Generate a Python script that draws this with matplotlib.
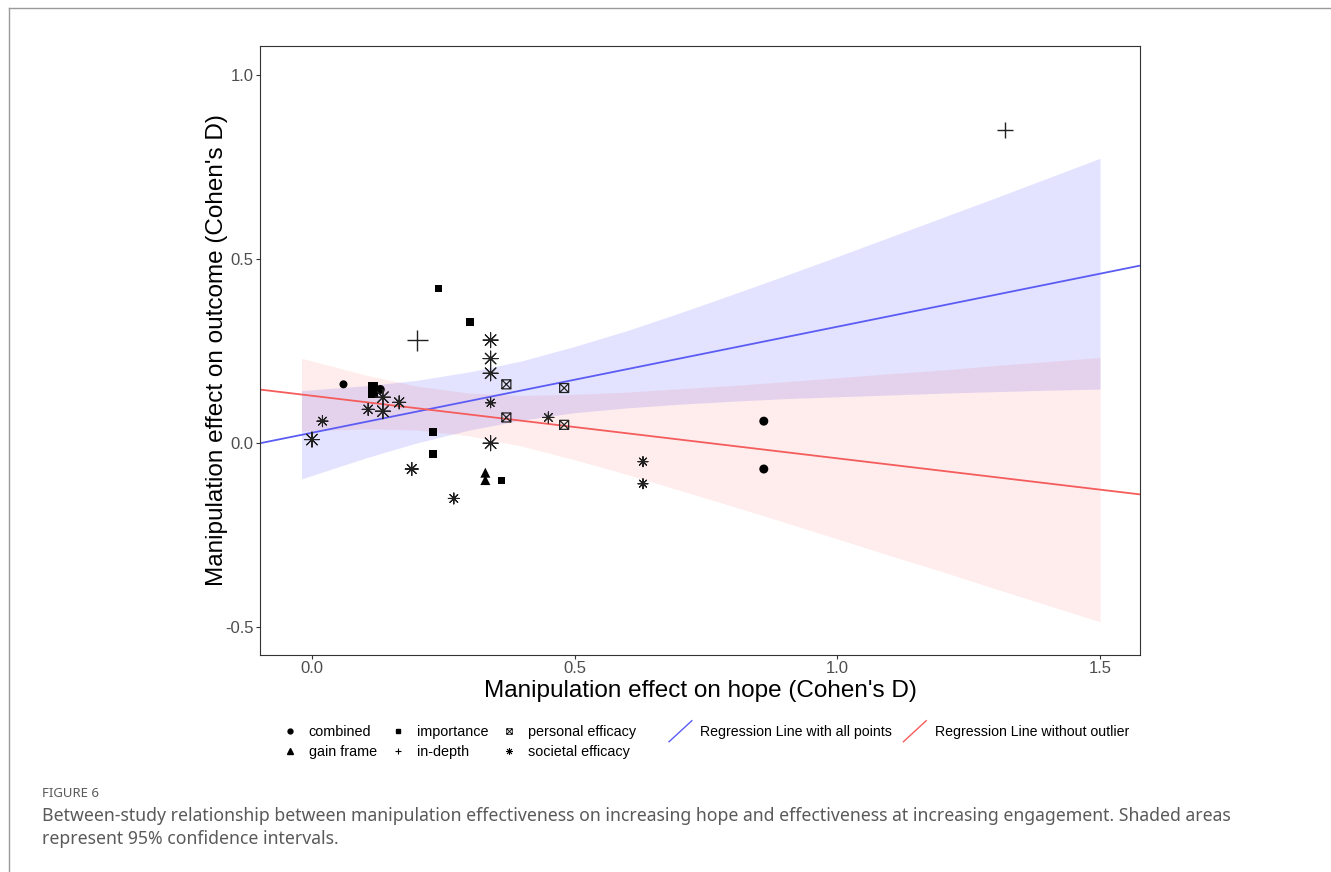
import numpy as np
import matplotlib
matplotlib.use("Agg")
from matplotlib import pyplot as plt
from matplotlib.lines import Line2D
from matplotlib.path import Path
from matplotlib.legend_handler import HandlerBase

plt.rcParams['font.family'] = ['Liberation Sans', 'DejaVu Sans']

# points per manipulation type (x = effect on hope, y = effect on outcome, size in px)
combined_x = [0.06, 0.13, 0.86, 0.86]
combined_y = [0.16, 0.146, 0.06, -0.07]
combined_s = [8, 9, 9, 9]

importance_x = [0.116, 0.116, 0.24, 0.30, 0.23, 0.23, 0.36]
importance_y = [0.152, 0.136, 0.42, 0.33, 0.03, -0.03, -0.10]
importance_s = [10, 10, 7, 8, 8, 8, 7]

gainframe_x = [0.33, 0.33]
gainframe_y = [-0.08, -0.10]
gainframe_s = [10, 10]

indepth_x = [0.20, 1.32]
indepth_y = [0.28, 0.85]
indepth_s = [21, 16]

personal_x = [0.37, 0.48, 0.37, 0.48]
personal_y = [0.16, 0.15, 0.07, 0.05]
personal_s = [9, 9, 9, 9]

societal_x = [0.00, 0.02, 0.107, 0.135, 0.135, 0.166, 0.34, 0.34, 0.34, 0.34, 0.34, 0.19, 0.27, 0.45, 0.63, 0.63]
societal_y = [0.01, 0.06, 0.092, 0.125, 0.087, 0.111, 0.28, 0.23, 0.19, 0.11, 0.00, -0.07, -0.15, 0.07, -0.05, -0.11]
societal_s = [15, 11, 12, 15, 15, 13, 15, 15, 15, 10, 15, 13, 11, 11, 10, 10]

# regression lines (intercept, slope)
reg_all = (0.0285, 0.288)
reg_noout = (0.129, -0.170)

# 95% confidence bands
band_x = [-0.02, 0.1, 0.2, 0.3, 0.4, 0.5, 0.6, 0.7, 0.8, 0.9, 1.0, 1.1, 1.2, 1.3, 1.4, 1.5]
blue_lo = [-0.097, -0.041, 0.001, 0.036, 0.063, 0.083, 0.096, 0.106, 0.114, 0.121,
           0.126, 0.131, 0.136, 0.140, 0.144, 0.147]
blue_hi = [0.143, 0.156, 0.171, 0.194, 0.224, 0.263, 0.306, 0.354, 0.404, 0.455,
           0.507, 0.560, 0.613, 0.666, 0.720, 0.774]
red_lo = [0.033, 0.039, 0.036, 0.020, -0.008, -0.045, -0.085, -0.128, -0.171, -0.215,
          -0.260, -0.305, -0.349, -0.395, -0.440, -0.485]
red_hi = [0.231, 0.186, 0.155, 0.136, 0.130, 0.133, 0.139, 0.148, 0.157, 0.167,
          0.178, 0.189, 0.199, 0.211, 0.222, 0.233]

# square with a cross inside (R pch 7)
box_x = Path([(-1, -1), (1, -1), (1, 1), (-1, 1), (-1, -1), (-1, -1), (1, 1), (-1, 1), (1, -1)],
             [Path.MOVETO, Path.LINETO, Path.LINETO, Path.LINETO, Path.CLOSEPOLY,
              Path.MOVETO, Path.LINETO, Path.MOVETO, Path.LINETO])
asterisk = (8, 2, 0)

fig = plt.figure(figsize=(13.31, 8.72), dpi=100)
ax = fig.add_axes([0.1953, 0.2489, 0.6612, 0.6984])

ax.fill_between(band_x, blue_lo, blue_hi, color='#0000ff', alpha=0.11, lw=0, zorder=1)
ax.fill_between(band_x, red_lo, red_hi, color='#ff0000', alpha=0.07, lw=0, zorder=1)
ax.axline((0, reg_all[0]), slope=reg_all[1], color='#5c5cf5', lw=1.3, zorder=2)
ax.axline((0, reg_noout[0]), slope=reg_noout[1], color='#f55c5c', lw=1.3, zorder=2)


def px2s(sizes):
    return [(v * 0.72) ** 2 for v in sizes]


ax.scatter(combined_x, combined_y, s=px2s(combined_s), marker='o', color='black', lw=0, zorder=3)
ax.scatter(importance_x, importance_y, s=px2s(importance_s), marker='s', color='black', lw=0, zorder=3)
ax.scatter(gainframe_x, gainframe_y, s=px2s(gainframe_s), marker='^', color='black', lw=0, zorder=3)
ax.scatter(indepth_x, indepth_y, s=px2s(indepth_s), marker='+', color='#222222', lw=1.0, zorder=3)
ax.scatter(personal_x, personal_y, s=px2s(personal_s), marker=box_x,
           facecolor='none', edgecolor='#222222', lw=0.9, zorder=3)
ax.scatter(societal_x, societal_y, s=px2s(societal_s), marker=asterisk, color='#222222', lw=0.8, zorder=3)

ax.set_xlim(-0.099, 1.576)
ax.set_ylim(-0.575, 1.079)
ax.set_xticks([0.0, 0.5, 1.0, 1.5])
ax.set_xticklabels(['0.0', '0.5', '1.0', '1.5'])
ax.set_yticks([-0.5, 0.0, 0.5, 1.0])
ax.set_yticklabels(['-0.5', '0.0', '0.5', '1.0'])
ax.tick_params(colors='#333333', labelcolor='#4d4d4d', labelsize=12, length=3, width=0.8, pad=1.5)
for sp in ax.spines.values():
    sp.set_color('#333333')
    sp.set_linewidth(0.8)

ax.set_xlabel("Manipulation effect on hope (Cohen's D)", fontsize=17.5, labelpad=3)
ax.set_ylabel("Manipulation effect on outcome (Cohen's D)", fontsize=17.5, labelpad=-2)


class DiagHandler(HandlerBase):
    def create_artists(self, legend, orig_handle, xdescent, ydescent, width, height, fontsize, trans):
        l = Line2D([-xdescent + 2, -xdescent + width - 2], [-ydescent - 4, -ydescent + height + 4],
                   color=orig_handle.get_color(), lw=1.0, transform=trans)
        return [l]


shape_handles = [
    Line2D([], [], marker='o', ls='', color='black', markersize=3.5),
    Line2D([], [], marker='^', ls='', color='black', markersize=4),
    Line2D([], [], marker='s', ls='', color='black', markersize=3.5),
    Line2D([], [], marker='+', ls='', color='black', markersize=5, mew=0.8),
    Line2D([], [], marker=box_x, ls='', mfc='none', mec='black', markersize=4, mew=0.6),
    Line2D([], [], marker=asterisk, ls='', color='black', markersize=5, mew=0.6),
]
shape_labels = ['combined', 'gain frame', 'importance', 'in-depth', 'personal efficacy', 'societal efficacy']
leg1 = fig.legend(shape_handles, shape_labels, ncol=3, loc='upper left', bbox_to_anchor=(0.2025, 0.183),
                  frameon=False, fontsize=10.4, handlelength=1.0, handletextpad=0.8, columnspacing=0.97,
                  labelspacing=0.4)

line_handles = [Line2D([], [], color='#5c5cf5'), Line2D([], [], color='#f55c5c')]
line_labels = ['Regression Line with all points', 'Regression Line without outlier']
leg2 = fig.legend(line_handles, line_labels, ncol=2, loc='upper left', bbox_to_anchor=(0.491, 0.183),
                  frameon=False, fontsize=10.2, handlelength=2.0, handletextpad=0.4, columnspacing=0.6,
                  handler_map={Line2D: DiagHandler()})

# outer frame of the figure panel
fig.add_artist(Line2D([0.0068, 0.0068], [0.0, 0.9908], color='#9a9a9a', lw=1.0, transform=fig.transFigure))
fig.add_artist(Line2D([0.0068, 1.0], [0.9908, 0.9908], color='#9a9a9a', lw=1.0, transform=fig.transFigure))

fig.text(0.0315, 0.0855, 'FIGURE 6', fontsize=9.5, color='#5a5a5a', family=['Noto Sans', 'DejaVu Sans'])
fig.text(0.0315, 0.0585, 'Between-study relationship between manipulation effectiveness on increasing hope and '
         'effectiveness at increasing engagement. Shaded areas', fontsize=12.7, color='#5a5a5a',
         family=['Noto Sans', 'DejaVu Sans'])
fig.text(0.0315, 0.0320, 'represent 95% confidence intervals.', fontsize=12.7, color='#5a5a5a',
         family=['Noto Sans', 'DejaVu Sans'])

plt.savefig('out.png', dpi=100)
plt.close()
